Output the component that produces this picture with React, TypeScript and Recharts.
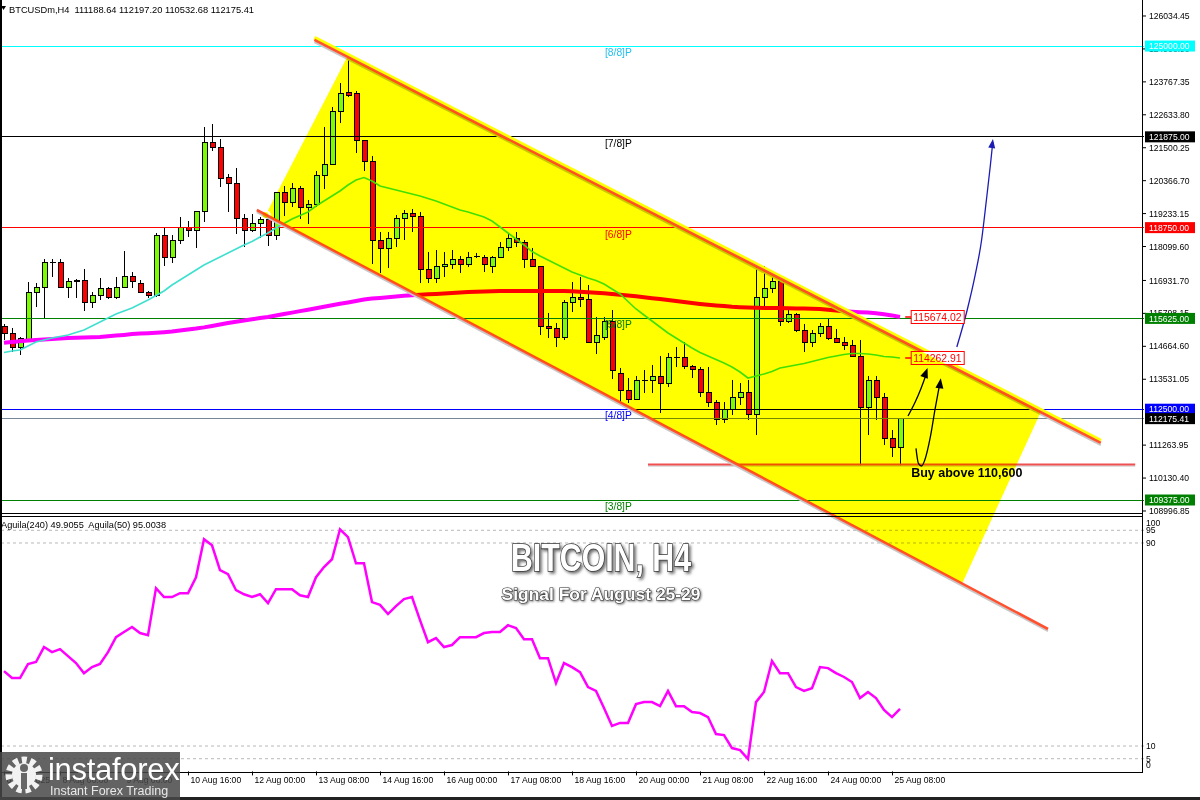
import React from 'react';
import { ComposedChart, Bar, Line, Area, XAxis, YAxis, ReferenceLine, ReferenceDot } from 'recharts';

const FF = '"Liberation Sans", Arial, sans-serif';
const N_SLOTS = 143;
const P_TOP = 126585;
const P_BOTTOM = 99049;

// ---- candles (H4) ----
const opens = [115364,115123,114641,114848,116534,116706,117533,117533,116706,116879,116947,116190,116431,116672,116328,116706,117051,116844,116534,116397,118496,117739,118290,118771,118634,119288,121697,121491,120492,120286,119081,118668,118875,119013,118462,119942,119598,120114,119426,119563,120561,120940,122764,123384,123350,121766,121009,118290,118015,118359,119081,119253,119150,117326,116982,117395,117498,117670,117464,117739,117739,117395,117739,118083,118359,118255,117636,117429,115364,115295,114985,116190,116362,116293,114813,114985,115502,113746,113127,112851,113505,113471,113643,113368,114263,114263,113953,113884,113092,112748,112163,112473,112886,113058,112301,116362,116672,116879,115502,115743,115226,114779,115089,115330,114951,114813,114676,114331,112576,113471,112886,111509,111188.64];
const highs = [115433,115295,114985,116879,116844,117670,117670,117670,117016,116982,117326,116534,117016,116706,117051,117946,117222,116947,116560,118565,118771,118496,119116,118978,119322,122214,122317,121801,120596,120802,119219,119219,119116,119116,119976,120183,120286,120183,119701,120699,122214,122902,123728,124554,123453,121780,121216,118599,118599,119185,119357,119391,119288,117911,117980,117911,117980,117773,117911,117877,117808,117773,118255,118565,118599,118324,118049,117440,115811,115467,116259,116879,117051,116775,115674,115674,115915,113920,113574,113643,113850,114022,114331,114435,114641,114813,114022,113953,113953,112817,112748,113505,113402,113505,117395,117429,117188,116982,115950,115811,115433,115226,115467,115639,115260,114985,114882,114882,113643,113643,113058,111785,112197.20];
const lows = [114882,114469,114366,114813,116018,115639,117051,116672,116328,116328,115880,115984,116259,116300,116300,116672,116672,116500,116328,116362,117429,117533,118186,118427,118049,118944,121388,120148,119288,118530,118083,118599,118393,118118,118324,119150,119460,119047,118875,119460,120080,120906,122351,123246,121319,120699,117498,117188,117360,118083,118324,118599,116844,116844,116844,117051,117326,117188,117395,117705,117222,117188,117705,117946,118083,117360,117395,115054,114951,114641,114882,115846,116018,114790,114400,114882,113540,112748,112714,112817,113058,113058,112369,113264,113953,113884,113574,112920,112576,111957,112025,112301,112645,112129,111612,116018,116500,115364,115467,115157,114469,114641,114985,114882,114779,114538,114297,110550,111612,112129,111268,110855,110532.68];
const closes = [115089,114641,114917,116534,116706,117533,117550,116706,116879,116947,116190,116431,116672,116328,116706,117051,116879,116534,116397,118496,117739,118324,118771,118634,119288,121697,121491,120458,120286,119081,118668,118875,119013,118462,119942,119598,120114,119426,119563,120561,120940,122764,123350,123281,121766,121009,118290,118015,118359,119081,119253,119150,117326,116982,117395,117498,117670,117464,117739,117750,117464,117739,118083,118359,118255,117636,117429,115364,115295,114985,116190,116362,116293,114813,115020,115502,113817,113127,112851,113471,113500,113643,113368,114263,114250,113953,113884,113092,112748,112163,112473,112886,113058,112301,116362,116672,116879,115502,115743,115226,114779,115089,115364,114951,114813,114676,114331,112576,113471,112886,111509,111188.64,112175.41];

// ---- moving averages ----
const maFast = [114452,114504,114538,114676,114813,114882,114951,115003,115054,115140,115226,115364,115502,115639,115777,115880,115984,116121,116259,116414,116569,116775,116947,117119,117292,117464,117601,117739,117877,118014,118152,118273,118427,118565,118737,118892,119047,119167,119288,119494,119667,119839,120011,120217,120389,120475,120355,120183,120114,120045,119976,119908,119839,119753,119667,119563,119460,119357,119288,119202,119116,118978,118772,118565,118359,118152,117928,117773,117636,117498,117360,117223,117119,117016,116930,116810,116638,116466,116207,115949,115743,115536,115330,115123,114951,114779,114607,114452,114331,114211,114091,113953,113781,113574,113643,113712,113798,113918,113970,114022,114073,114142,114211,114280,114331,114383,114418,114418,114400,114366,114314,114297,114262.91];
const maSlow = [114789,114813,114841,114865,114886,114903,114920,114934,114951,114958,114968,114975,114985,115010,115034,115058,115085,115102,115116,115133,115151,115175,115209,115244,115275,115316,115364,115416,115467,115512,115553,115595,115636,115674,115725,115777,115825,115877,115925,115973,116025,116077,116128,116176,116225,116273,116307,116331,116355,116383,116404,116421,116438,116455,116469,116486,116503,116521,116534,116541,116552,116558,116569,116569,116569,116569,116569,116569,116569,116569,116569,116562,116545,116527,116510,116490,116466,116441,116414,116386,116355,116321,116290,116259,116225,116190,116159,116125,116097,116073,116049,116025,116011,116001,115994,115987,115984,115984,115977,115970,115963,115956,115949,115925,115898,115873,115856,115839,115825,115801,115767,115729,115674.02];

// ---- oscillator ----
const aguila = [39.5,36.8,36.8,42.3,43.1,49.0,47.0,48.2,45.4,42.7,38.7,41.1,42.3,47.0,52.9,54.9,56.9,54.5,53.7,72.2,68.7,68.7,70.2,70.2,76.5,91.5,89.1,79.3,77.7,71.4,69.8,68.7,69.8,66.3,71.8,71.8,71.8,69.4,68.7,76.5,80.5,83.6,95.4,92.3,82.0,82.0,66.7,65.6,62.0,65.1,67.9,68.7,59.6,50.9,52.5,49.0,49.8,52.9,52.9,52.9,54.5,54.9,54.9,57.6,56.5,52.1,52.1,44.6,44.6,34.8,42.7,41.1,39.1,33.2,31.7,25.0,17.9,19.1,19.1,26.5,27.3,27.3,25.7,31.7,25.7,25.7,23.4,23.0,21.4,14.7,14.3,9.2,8.4,4.9,27.3,31.3,43.5,38.7,38.7,33.2,31.7,32.8,41.1,40.7,38.7,37.2,35.2,28.9,31.3,28.9,24.2,21.4,24.6];
const aguilaLevels = [95, 90, 10, 5];
const aguilaTicks = [100, 95, 90, 10, 5, 0];

// ---- axes ----
const xTickIndex = [0, 7, 15, 23, 31, 39, 47, 55, 63, 71, 79, 87, 95, 103, 111];
const xTickLabels = ['6 Aug 2025', '8 Aug 00:00', '9 Aug 08:00', '10 Aug 16:00', '12 Aug 00:00', '13 Aug 08:00', '14 Aug 16:00', '16 Aug 00:00', '17 Aug 08:00', '18 Aug 16:00', '20 Aug 00:00', '21 Aug 08:00', '22 Aug 16:00', '24 Aug 00:00', '25 Aug 08:00'];
const priceTicks = [126034.45, 124900.90, 123767.35, 122633.80, 121500.25, 120366.70, 119233.15, 118099.60, 116931.70, 115798.15, 114664.60, 113531.05, 111263.95, 110130.40, 108996.85];

// ---- Murrey levels ----
const levelValues = [125000, 121875, 118750, 115625, 112500, 109375];
const levelNames = ['[8/8]P', '[7/8]P', '[6/8]P', '[5/8]P', '[4/8]P', '[3/8]P'];
const lastPrice = 112175.41;
const levelNameX = 76.8;

// ---- drawn objects (bar index, price) ----
const channelUpper = [{ x: 38.8, p: 125210 }, { x: 137.1, p: 111340 }];
const channelLower = [{ x: 31.6, p: 119357 }, { x: 130.5, p: 104935 }];
const buyLevel = 110600;
const buyLine = [{ x: 80.5, p: 110600 }, { x: 141.4, p: 110600 }];
const yellowPoly = [
  { x: 32.7, lo: 119185, hi: 119185 },
  { x: 42.9, lo: 117715, hi: 124623 },
  { x: 119.8, lo: 106518, hi: 113767 },
  { x: 129.6, lo: 112404, hi: 112404 },
];
const blueArrow = [{ x: 119.1, p: 114641 }, { x: 120.4, p: 115915 }, { x: 121.4, p: 117120 }, { x: 122.2, p: 118324 }, { x: 122.8, p: 119701 }, { x: 123.3, p: 120906 }, { x: 123.6, p: 121697 }];
const blueTip = { x: 123.62, p: 121800 };
const blackArrow1 = [{ x: 113.0, p: 112266 }, { x: 113.9, p: 112749 }, { x: 114.6, p: 113196 }, { x: 115.2, p: 113643 }];
const blackTip1 = { x: 115.44, p: 113918 };
const blackArrow2 = [{ x: 114.0, p: 111154 }, { x: 114.3, p: 110638 }, { x: 114.7, p: 110545 }, { x: 115.1, p: 110752 }, { x: 115.8, p: 111554 }, { x: 116.4, p: 112531 }, { x: 116.9, p: 113275 }];
const blackTip2 = { x: 117.1, p: 113564 };
const maLabelX = 113.4;

const levelLineColors = ['#00ffff', '#000000', '#ff0000', '#008000', '#0000ff', '#008000'];
const levelTextColors = ['#22c0f0', '#000000', '#ff0000', '#008000', '#0000ff', '#008000'];

const shifted = (pts: { x: number; p: number }[], d: number) => pts.map((q) => ({ x: q.x, p: q.p + d }));

const rows = Array.from({ length: N_SLOTS }, (_, i) =>
  i < opens.length
    ? { i, open: opens[i], high: highs[i], low: lows[i], close: closes[i], maFast: maFast[i], maSlow: maSlow[i] }
    : { i }
);
const indRows = aguila.map((v, i) => ({ x: i, v }));

function Candle(props: any) {
  const { x, y, width, height, payload } = props;
  if (!payload || payload.open == null || !isFinite(y) || !isFinite(height)) return null;
  const { open, high, low, close } = payload;
  const cx = Math.round(x + width / 2) + 0.5;
  const k = high > low ? height / (high - low) : 0;
  const yO = y + (high - open) * k;
  const yC = y + (high - close) * k;
  const top = Math.min(yO, yC);
  const bot = Math.max(yO, yC);
  const bull = close >= open;
  return (
    <g shapeRendering="crispEdges">
      <line x1={cx} x2={cx} y1={y} y2={y + height} stroke="#000" strokeWidth={1} />
      {bot - top < 1.5 ? (
        <line x1={cx - 3} x2={cx + 3} y1={top} y2={top} stroke="#000" strokeWidth={1} />
      ) : (
        <rect x={cx - 2.5} y={top} width={5} height={bot - top} fill={bull ? '#7cfc00' : '#ff0000'} stroke="#000" strokeWidth={1} />
      )}
    </g>
  );
}

function PriceTick(props: any) {
  const { x, y, payload } = props;
  const v = payload.value as number;
  const k = levelValues.indexOf(v);
  if (k >= 0 || v === lastPrice) {
    const bg = k >= 0 ? levelLineColors[k] : '#000000';
    return (
      <g>
        <rect x={x + 1} y={y - 5.5} width={50} height={11} fill={bg} />
        <text x={x + 5} y={y + 3.2} fontSize={8.6} fill="#ffffff" fontFamily={FF}>{v.toFixed(2)}</text>
      </g>
    );
  }
  return (
    <g>
      <line x1={x - 1} x2={x + 2} y1={y} y2={y} stroke="#000" />
      <text x={x + 5} y={y + 3.1} fontSize={8.6} fill="#000" fontFamily={FF}>{v.toFixed(2)}</text>
    </g>
  );
}

function AgTick(props: any) {
  const { x, y, payload } = props;
  const v = payload.value as number;
  const dy = v === 100 ? 8 : v === 0 ? -3.5 : 3;
  return (
    <text x={x + 2} y={y + dy} fontSize={8.6} fill="#000" fontFamily={FF}>{String(v)}</text>
  );
}

function TimeTick(props: any) {
  const { x, y, payload } = props;
  const k = xTickIndex.indexOf(payload.value);
  const label = k >= 0 ? xTickLabels[k] : '';
  return (
    <g>
      <line x1={x + 0.5} x2={x + 0.5} y1={y} y2={y + 4} stroke="#000" />
      <text x={x + 2.5} y={y + 11.5} fontSize={8.6} fill="#000" fontFamily={FF}>{label}</text>
    </g>
  );
}

const levelLabel = (k: number) => (p: any) => (
  <text x={p.cx} y={p.cy + 10} textAnchor="middle" fontSize={10.3} fill={levelTextColors[k]} fontFamily={FF}>{levelNames[k]}</text>
);

const maBox = (txt: string) => (p: any) => (
  <g>
    <line x1={p.cx - 6} x2={p.cx} y1={p.cy} y2={p.cy} stroke="#ff0000" strokeWidth={1.5} />
    <rect x={p.cx} y={p.cy - 6.5} width={53} height={13} fill="#ffffff" stroke="#ff0000" strokeWidth={1} />
    <text x={p.cx + 2} y={p.cy + 3.8} fontSize={10.4} fill="#ff0000" fontFamily={FF}>{txt}</text>
  </g>
);

const arrowHead = (angle: number, color: string, len: number, half: number) => (p: any) => (
  <polygon
    points={`0,0 ${-half},${len} ${half},${len}`}
    fill={color}
    transform={`translate(${p.cx},${p.cy}) rotate(${angle})`}
  />
);

const buyText = (p: any) => (
  <text x={p.cx} y={p.cy + 12.6} fontSize={12.5} fontWeight="bold" fill="#000" fontFamily={FF}>Buy above 110,600</text>
);

export default function App() {
  const abs: React.CSSProperties = { position: 'absolute', left: 0, top: 0 };
  return (
    <div style={{ position: 'absolute', left: 0, top: 0, width: 1200, height: 800, background: '#ffffff', overflow: 'hidden' }}>
      {/* oscillator panel */}
      <div style={abs}>
        <ComposedChart width={1200} height={800} data={indRows} margin={{ top: 517.6, right: 0, bottom: 0, left: 0 }}>
          <XAxis dataKey="x" type="number" domain={[-0.5, N_SLOTS - 0.5]} allowDataOverflow ticks={xTickIndex} interval={0}
            height={28.6} tick={(p: any) => <TimeTick {...p} />} tickLine={false} axisLine={false} tickSize={0} tickMargin={0} />
          <YAxis orientation="right" width={56} domain={[0, 100]} ticks={aguilaTicks} interval={0}
            tick={(p: any) => <AgTick {...p} />} tickLine={false} axisLine={false} tickSize={0} tickMargin={0} />
          {aguilaLevels.map((v) => (
            <ReferenceLine key={v} y={v} stroke="#b8b8b8" strokeDasharray="3 3" />
          ))}
          <Line dataKey="v" stroke="#ff00ff" strokeWidth={2.5} dot={false} isAnimationActive={false} />
        </ComposedChart>
      </div>

      {/* price panel */}
      <div style={abs}>
        <ComposedChart width={1200} height={800} data={rows} margin={{ top: 0, right: 0, bottom: 0, left: 0 }}>
          <XAxis dataKey="i" type="category" hide />
          <XAxis xAxisId="n" dataKey="x" type="number" domain={[-0.5, N_SLOTS - 0.5]} allowDataOverflow hide />
          <YAxis orientation="right" width={56} domain={[P_BOTTOM, P_TOP]} allowDataOverflow
            ticks={[...priceTicks, ...levelValues, lastPrice]} interval={0}
            tick={(p: any) => <PriceTick {...p} />} tickLine={false} axisLine={false} tickSize={0} tickMargin={0} />
          {levelValues.map((v, k) => (
            <ReferenceLine key={v} y={v} stroke={levelLineColors[k]} strokeWidth={1} shapeRendering="crispEdges" />
          ))}
          <ReferenceLine y={lastPrice} stroke="#778899" strokeWidth={1} shapeRendering="crispEdges" />
          <Bar dataKey={(d: any) => (d.open == null ? null : [d.low, d.high])} shape={(p: any) => <Candle {...p} />} isAnimationActive={false} />
          <Line dataKey="maSlow" stroke="#ff00ff" strokeWidth={4} dot={false} isAnimationActive={false} />
          <Line dataKey="maFast" stroke="#40e0d0" strokeWidth={1.6} dot={false} isAnimationActive={false} />
          <Line xAxisId="n" data={shifted(buyLine, -55)} dataKey="p" stroke="#d4d4d4" strokeWidth={1.5} dot={false} isAnimationActive={false} />
          <Line xAxisId="n" data={buyLine} dataKey="p" stroke="#f05050" strokeWidth={2} dot={false} isAnimationActive={false} />
          <Line xAxisId="n" data={shifted(channelUpper, 75)} dataKey="p" stroke="#ffff00" strokeWidth={4} dot={false} isAnimationActive={false} />
          <Line xAxisId="n" data={shifted(channelUpper, -75)} dataKey="p" stroke="#c8c8c8" strokeWidth={2} dot={false} isAnimationActive={false} />
          <Line xAxisId="n" data={shifted(channelLower, -75)} dataKey="p" stroke="#c8c8c8" strokeWidth={2} dot={false} isAnimationActive={false} />
          <Line xAxisId="n" data={channelUpper} dataKey="p" stroke="#ff5030" strokeWidth={2.6} dot={false} isAnimationActive={false} />
          <Line xAxisId="n" data={channelLower} dataKey="p" stroke="#ff5030" strokeWidth={2.6} dot={false} isAnimationActive={false} />
          <Line xAxisId="n" data={blueArrow} dataKey="p" type="monotone" stroke="#1c1cb4" strokeWidth={1.3} dot={false} isAnimationActive={false} />
          <Line xAxisId="n" data={blackArrow1} dataKey="p" type="monotone" stroke="#000" strokeWidth={1.3} dot={false} isAnimationActive={false} />
          <Line xAxisId="n" data={blackArrow2} dataKey="p" type="monotone" stroke="#000" strokeWidth={1.3} dot={false} isAnimationActive={false} />
          <ReferenceDot xAxisId="n" x={blueTip.x} y={blueTip.p} shape={arrowHead(8, '#1c1cb4', 9, 3.5)} />
          <ReferenceDot xAxisId="n" x={blackTip1.x} y={blackTip1.p} shape={arrowHead(20, '#000', 10, 4)} />
          <ReferenceDot xAxisId="n" x={blackTip2.x} y={blackTip2.p} shape={arrowHead(8, '#000', 10, 4)} />
          {levelValues.map((v, k) => (
            <ReferenceDot key={'l' + v} xAxisId="n" x={levelNameX} y={v} shape={levelLabel(k)} />
          ))}
          <ReferenceDot xAxisId="n" x={maLabelX} y={maSlow[maSlow.length - 1]} shape={maBox('115674.02')} />
          <ReferenceDot xAxisId="n" x={maLabelX} y={maFast[maFast.length - 1]} shape={maBox('114262.91')} />
          <ReferenceDot xAxisId="n" x={maLabelX} y={buyLevel} shape={buyText} />
        </ComposedChart>
      </div>

      {/* panel frames */}
      <div style={{ position: 'absolute', left: 0, top: 0, width: 2, height: 800, background: '#000' }} />
      <div style={{ position: 'absolute', left: 1142, top: 0, width: 1, height: 772, background: '#000' }} />
      <div style={{ position: 'absolute', left: 0, top: 513, width: 1143, height: 1, background: '#000' }} />
      <div style={{ position: 'absolute', left: 0, top: 516, width: 1143, height: 1, background: '#000' }} />
      <div style={{ position: 'absolute', left: 0, top: 772, width: 1143, height: 1, background: '#000' }} />
      <div style={{ position: 'absolute', left: 0, top: 797, width: 1200, height: 3, background: '#222' }} />

      {/* yellow channel fill (multiplied like the terminal draws it) */}
      <div style={{ ...abs, mixBlendMode: 'multiply' }}>
        <ComposedChart width={1200} height={800} data={yellowPoly} margin={{ top: 0, right: 56, bottom: 0, left: 0 }}>
          <XAxis dataKey="x" type="number" domain={[-0.5, N_SLOTS - 0.5]} allowDataOverflow hide />
          <YAxis domain={[P_BOTTOM, P_TOP]} allowDataOverflow hide />
          <Area dataKey={(d: any) => [d.lo, d.hi]} type="linear" fill="#ffff00" fillOpacity={1} stroke="none" isAnimationActive={false} />
        </ComposedChart>
      </div>

      {/* texts */}
      <svg width={1200} height={800} style={{ position: 'absolute', left: 0, top: 0, pointerEvents: 'none' }}>
        <polygon points="1,6 6,6 3.5,10" fill="#000" />
        <text x={9} y={12.5} fontSize={9.3} fill="#000" fontFamily={FF} style={{ whiteSpace: 'pre' }}>BTCUSDm,H4  111188.64 112197.20 110532.68 112175.41</text>
        <text x={1} y={528} fontSize={9.2} fill="#000" fontFamily={FF} style={{ whiteSpace: 'pre' }}>Aguila(240) 49.9055  Aguila(50) 95.0038</text>
        <text x={601} y={571} fontSize={38} fontWeight="bold" textAnchor="middle" textLength={180} lengthAdjust="spacingAndGlyphs"
          fill="#ffffff" stroke="#3a3a3a" strokeWidth={1.6} fontFamily={FF}
          style={{ paintOrder: 'stroke', filter: 'drop-shadow(2px 2px 1.5px rgba(0,0,0,0.55))' }}>BITCOIN, H4</text>
        <text x={601} y={600} fontSize={17} fontWeight="bold" textAnchor="middle" textLength={199} lengthAdjust="spacingAndGlyphs"
          fill="#ffffff" stroke="#3a3a3a" strokeWidth={1.2} fontFamily={FF}
          style={{ paintOrder: 'stroke', filter: 'drop-shadow(1.5px 1.5px 1px rgba(0,0,0,0.55))' }}>Signal For August 25-29</text>
      </svg>

      {/* logo */}
      <div style={{ position: 'absolute', left: 0, top: 752, width: 180, height: 48, background: 'rgba(72,72,72,0.85)' }}>
        <svg width={46} height={46} style={{ position: 'absolute', left: 2, top: 1 }}>
          <circle cx={22} cy={22} r={15} fill="none" stroke="#f2f2f2" strokeWidth={7} strokeDasharray="5 3.5" />
          <circle cx={22} cy={22} r={12} fill="#f2f2f2" />
          <circle cx={22} cy={15} r={4} fill="#666" />
          <rect x={19} y={20} width={6} height={16} fill="#666" />
        </svg>
        <div style={{ position: 'absolute', left: 48, top: 2, fontSize: 31, color: '#ffffff', fontFamily: FF, lineHeight: '31px', letterSpacing: -0.3 }}>instaforex</div>
        <div style={{ position: 'absolute', left: 50, top: 33, fontSize: 12.5, color: '#e8e8e8', fontFamily: FF, lineHeight: '13px' }}>Instant Forex Trading</div>
      </div>
    </div>
  );
}
